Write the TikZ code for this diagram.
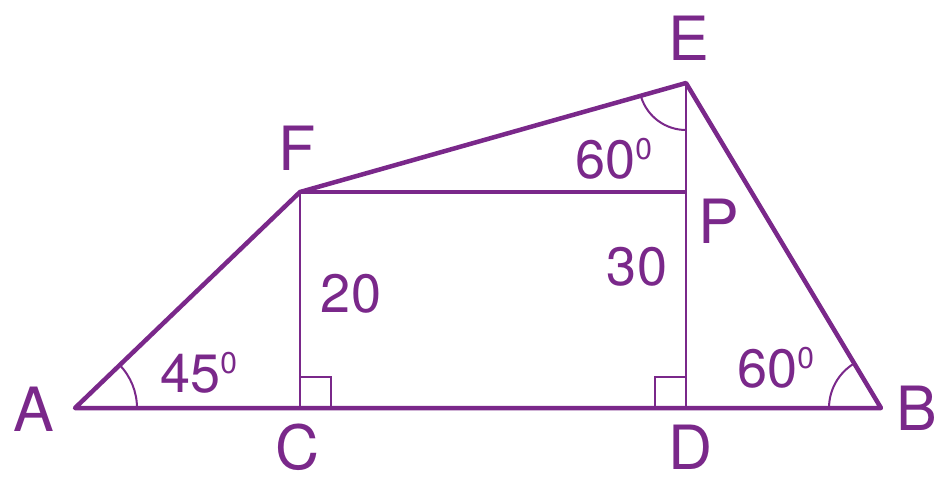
\documentclass[tikz,border=0pt]{standalone}
\usepackage{fontspec}
\setmainfont{TeX Gyre Heros}
\usetikzlibrary{calc}
\definecolor{geo}{RGB}{122,40,138}
\begin{document}
\begin{tikzpicture}[x=1pt,y=-1pt,
  thick line/.style={draw=geo,line width=4.5pt,line join=round},
  thin line/.style={draw=geo,line width=2.4pt},
  arcline/.style={draw=geo,line width=2pt},
  ptlabel/.style={text=geo,font=\fontsize{61}{61}\selectfont,inner sep=0pt},
  numlabel/.style={text=geo,font=\fontsize{54}{54}\selectfont,inner sep=0pt}]
\useasboundingbox (0,0) rectangle (940,483);
\fill[white] (0,0) rectangle (940,483);
% points
\coordinate (A) at (75,408);
\coordinate (B) at (881,408);
\coordinate (C) at (300,408);
\coordinate (D) at (686,408);
\coordinate (F) at (300,192);
\coordinate (E) at (686,83);
\coordinate (P) at (686,192);
% thin lines
\draw[thin line] (F) -- (C);
\draw[thin line] (E) -- (D);
% right angle squares
\draw[thin line] ($(C)+(0,-31)$) -- ++(31,0) -- ++(0,31);
\draw[thin line] ($(D)+(0,-31)$) -- ++(-31,0) -- ++(0,31);
% angle arcs
\draw[arcline] ($(A)+(62,0)$) arc[start angle=0,end angle=-44,radius=62];
\draw[arcline] ($(B)+(-52,0)$) arc[start angle=180,end angle=239,radius=52];
\draw[arcline] ($(E)+(0,47)$) arc[start angle=90,end angle=162.4,radius=47];
% thick outline
\draw[thick line] (A) -- (B) -- (E) -- (F) -- cycle;
\draw[thick line] (F) -- (P);
% labels
\node[ptlabel] (lA) at (34,409) {A};
\node[ptlabel] (lB) at (917,408) {B};
\node[ptlabel] (lC) at (298,447) {C};
\node[ptlabel] (lD) at (691,447) {D};
\node[ptlabel] (lE) at (689,38) {E};
\node[ptlabel] (lF) at (297,148) {F};
\node[ptlabel] (lP) at (719,221) {P};
\node[numlabel] (n20) at (351,294) {20};
\node[numlabel] (n30) at (637,267) {30};
\node[numlabel,anchor=west] (n45) at (160,373) {45\raisebox{0.35em}{\fontsize{30}{30}\selectfont 0}};
\node[numlabel,anchor=west] (n60b) at (737,368) {60\raisebox{0.35em}{\fontsize{30}{30}\selectfont 0}};
\node[numlabel,anchor=west] (n60t) at (575,159) {60\raisebox{0.35em}{\fontsize{30}{30}\selectfont 0}};
\end{tikzpicture}
\end{document}
